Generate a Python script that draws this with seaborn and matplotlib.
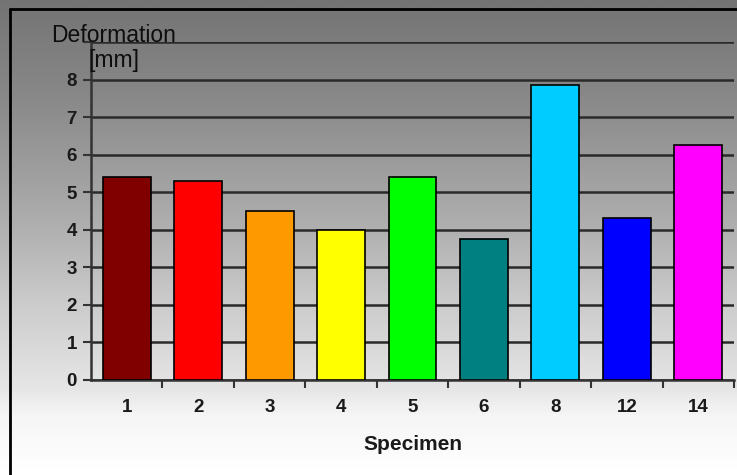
import matplotlib
matplotlib.use('Agg')
import matplotlib.pyplot as plt
from matplotlib.colors import LinearSegmentedColormap
from matplotlib.lines import Line2D
import seaborn as sns
import numpy as np
import pandas as pd

# data
specimens = ['1', '2', '3', '4', '5', '6', '8', '12', '14']
deformation = [5.4, 5.3, 4.5, 4.0, 5.4, 3.75, 7.85, 4.32, 6.25]
bar_colors = ['#800000', '#FF0000', '#FF9900', '#FFFF00', '#00FF00',
              '#008080', '#00CCFF', '#0000FF', '#FF00FF']

df = pd.DataFrame({'specimen': specimens, 'deformation': deformation})

sns.set_theme(style="white")
plt.rcParams['font.family'] = ['Liberation Sans', 'DejaVu Sans']

W, H = 737, 475
fig = plt.figure(figsize=(W / 100, H / 100), dpi=100)
fig.patch.set_facecolor('white')

# gray gradient background, dark at top, white near the bottom
bg = fig.add_axes([0, 0, 1, 1], zorder=-5)
bg.set_axis_off()
grad_cmap = LinearSegmentedColormap.from_list(
    'grad', [(0.0, '#747474'), (0.2, '#888888'), (0.45, '#ababab'),
             (0.65, '#cdcdcd'), (0.82, '#e6e6e6'), (0.88, '#f6f6f6'),
             (1.0, '#ffffff')])
rows = np.linspace(0, 1, 300).reshape(-1, 1)
bg.imshow(rows, aspect='auto', cmap=grad_cmap, extent=[0, 1, 0, 1],
          origin='upper', vmin=0, vmax=1)
bg.set_xlim(0, 1)
bg.set_ylim(0, 1)

# black frame on left and top
fig.add_artist(Line2D([10 / W, 10 / W], [0, 1 - 9 / H], color='black', lw=2))
fig.add_artist(Line2D([10 / W, 1], [1 - 9 / H, 1 - 9 / H], color='black', lw=2))

ax = fig.add_axes([91 / W, (H - 380) / H, (734 - 91) / W, (380 - 42) / H])
ax.set_facecolor('none')

sns.barplot(data=df, x='specimen', y='deformation', hue='specimen',
            palette=bar_colors, legend=False, width=0.67, saturation=1,
            edgecolor='black', linewidth=1.2, ax=ax, zorder=3)

ax.set_ylim(0, 9)
ax.set_xlim(-0.5, len(specimens) - 0.5)
ax.set_yticks(range(0, 10))
ax.set_yticklabels([str(i) for i in range(0, 9)] + [''])
ax.yaxis.grid(True, color='#2a2a2a', linewidth=1.8, zorder=1)
ax.set_axisbelow(True)

for s in ['top', 'right']:
    ax.spines[s].set_visible(False)
ax.spines['left'].set_color('#333333')
ax.spines['left'].set_linewidth(1.8)
ax.spines['bottom'].set_color('#333333')
ax.spines['bottom'].set_linewidth(1.8)

ax.tick_params(axis='y', which='both', left=True, length=6, width=1.5,
               color='#333333', labelsize=13.5, pad=4)
ax.set_xticks(np.arange(len(specimens)))
ax.set_xticklabels(specimens)
ax.tick_params(axis='x', bottom=False, labelsize=13.5, pad=8)
ax.set_xticks(np.arange(len(specimens)) + 0.5, minor=True)
ax.tick_params(axis='x', which='minor', bottom=True, length=6, width=1.5,
               color='#333333', direction='out')
for lab in ax.get_xticklabels() + ax.get_yticklabels():
    lab.set_fontweight('bold')
    lab.set_color('#1a1a1a')

ax.set_xlabel('Specimen', fontsize=15, fontweight='bold', color='#1a1a1a',
              labelpad=13)
ax.set_ylabel('')

fig.text(51 / W, 1 - 42 / H, 'Deformation', fontsize=16.5,
         color='#0d0d0d', ha='left', va='baseline')
fig.text(88 / W, 1 - 67 / H, '[mm]', fontsize=16.5,
         color='#0d0d0d', ha='left', va='baseline')

plt.savefig('out.png', dpi=100)
plt.close()
